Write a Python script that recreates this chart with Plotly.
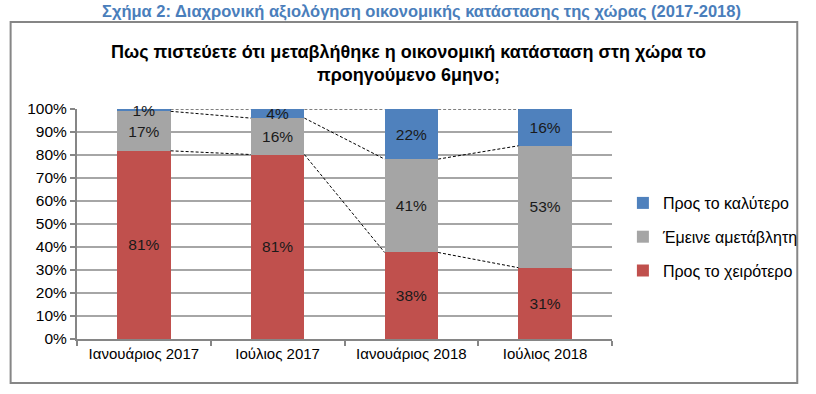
import plotly.graph_objects as go

categories = ["Ιανουάριος 2017", "Ιούλιος 2017", "Ιανουάριος 2018", "Ιούλιος 2018"]
worse = [81, 81, 38, 31]
same = [17, 16, 41, 53]
better = [1, 4, 22, 16]

series_names = ["Προς το χειρότερο", "Έμεινε αμετάβλητη", "Προς το καλύτερο"]
series_vals = [worse, same, better]
colors = ["#C0504D", "#A5A5A5", "#4F81BD"]
ranks = [3, 2, 1]

W, H = 816, 394
L, R, T, B = 77, 617, 109, 339  # plot area in pixels
BW = 0.4

def px(x):
    return (x - L) / (R - L)

def py(y):
    return (B - y) / (B - T)

xs = list(range(len(categories)))
fig = go.Figure()
for name, vals, col, rk in zip(series_names, series_vals, colors, ranks):
    fig.add_trace(go.Bar(
        x=xs, y=vals, name=name, marker=dict(color=col, line=dict(width=0)),
        width=BW, text=[f"{v}%" for v in vals], textposition="inside",
        insidetextanchor="middle", textfont=dict(size=15.5, color="#1a1a1a", family="Liberation Sans, Arial"),
        legendgroup=name, legendrank=rk, cliponaxis=False,
    ))

# normalized cumulative boundaries for connector lines
totals = [sum(s[i] for s in series_vals) for i in xs]
lx, ly = [], []
for k in range(len(series_vals)):
    cum = [sum(series_vals[j][i] for j in range(k + 1)) / totals[i] * 100 for i in xs]
    for i in xs[:-1]:
        lx += [i + BW / 2, i + 1 - BW / 2, None]
        ly += [cum[i], cum[i + 1], None]
fig.add_trace(go.Scatter(x=lx, y=ly, mode="lines", showlegend=False,
                         line=dict(color="black", width=1, dash="3px,2px"), hoverinfo="skip"))

fig.update_layout(
    width=W, height=H, barmode="stack", barnorm="percent",
    margin=dict(l=L, r=W - R, t=T, b=H - B, pad=0),
    plot_bgcolor="white", paper_bgcolor="white",
    font=dict(family="Liberation Sans, Arial", size=15, color="#000"),
    uniformtext=dict(mode="show", minsize=15),
    showlegend=True,
    legend=dict(x=px(628), y=py(237), xanchor="left", yanchor="middle",
                traceorder="grouped", tracegroupgap=10,
                font=dict(size=16, color="#000"), itemwidth=30, bgcolor="rgba(0,0,0,0)"),
    xaxis=dict(range=[-0.5, 3.5], tickvals=xs, ticktext=categories, ticks="", showgrid=False,
               showline=True, linecolor="#868686", linewidth=2, zeroline=False,
               tickfont=dict(size=15),
               minor=dict(tickvals=[-0.5, 0.5, 1.5, 2.5, 3.5], ticks="outside", ticklen=5,
                          tickcolor="#868686", tickwidth=2, showgrid=False)),
    yaxis=dict(range=[0, 100], dtick=10, ticksuffix="%", showgrid=True, gridcolor="#A6A6A6",
               gridwidth=1.5, showline=True, linecolor="#868686", linewidth=2, ticks="outside",
               ticklen=5, tickcolor="#868686", tickwidth=2, zeroline=False, tickfont=dict(size=15.5)),
)

# outer chart frame
fig.add_shape(type="rect", xref="paper", yref="paper", x0=px(10), x1=px(804), y0=py(383), y1=py(22),
              line=dict(color="#868686", width=2), fillcolor="rgba(0,0,0,0)", layer="below")

narrow = "Liberation Sans Narrow, Arial Narrow, Liberation Sans"
fig.add_annotation(xref="paper", yref="paper", x=px(425), y=py(11), xanchor="center", yanchor="middle",
                   text="<b>Σχήμα 2: Διαχρονική αξιολόγηση οικονομικής κατάστασης της χώρας (2017-2018)</b>",
                   showarrow=False, font=dict(family=narrow, size=16.5, color="#4A7EBB"))
fig.add_annotation(xref="paper", yref="paper", x=px(412), y=py(63), xanchor="center", yanchor="middle",
                   text="<b>Πως πιστεύετε ότι μεταβλήθηκε η οικονομική κατάσταση στη χώρα το<br>προηγούμενο 6μηνο;</b>",
                   showarrow=False, font=dict(family=narrow, size=18, color="#000"))

fig.write_html("out.html", config={"displayModeBar": False},
               post_script="document.body.style.margin='0';document.body.style.overflow='hidden';")
